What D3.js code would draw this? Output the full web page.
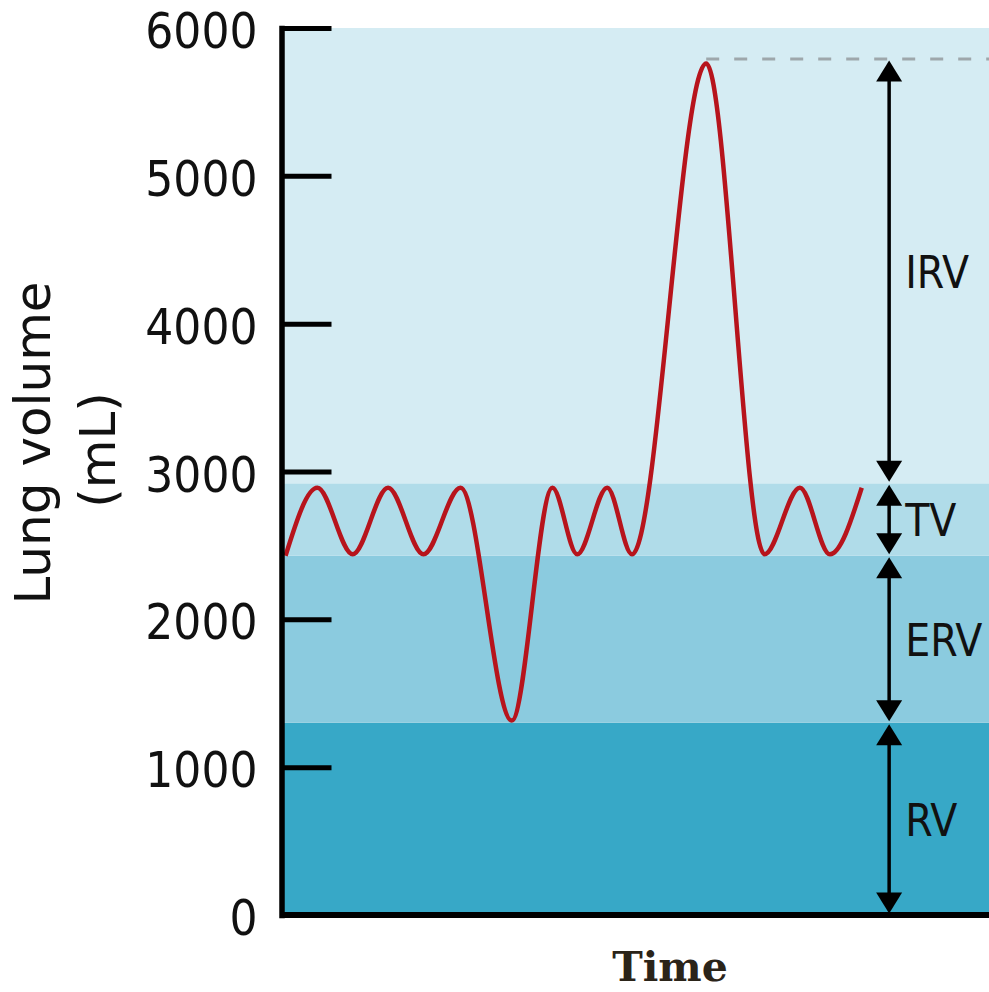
<!DOCTYPE html>
<html>
<head>
<meta charset="utf-8">
<script src="https://cdn.jsdelivr.net/npm/d3@7"></script>
<style>
  html, body { margin: 0; padding: 0; background: #fff; }
  svg { display: block; }
</style>
</head>
<body>
<svg id="chart" width="989" height="992"></svg>
<script>
// Spirogram: lung volume over time with the four lung volumes marked.
const yTicks = [0, 1000, 2000, 3000, 4000, 5000, 6000];

// Band limits (mL)
const bandNames  = ["RV", "ERV", "TV", "IRV"];
const bandLower  = [0, 1300, 2430, 2920];
const bandUpper  = [1300, 2430, 2920, 5790];
const bandColors = ["#37a8c7", "#8bcbdf", "#b0dce9", "#d5ecf3"];

// Spirometer trace: time (s) and volume (mL) at turning points
const traceTime   = [0.2, 2.0, 4.0, 6.0, 8.0, 10.1, 13.0, 15.3, 16.7, 18.4, 19.8, 24.0, 27.3, 29.3, 31.0, 32.8];
const traceVolume = [2430, 2890, 2440, 2890, 2440, 2890, 1315, 2890, 2440, 2890, 2440, 5760, 2440, 2890, 2440, 2890];

const svg = d3.select("#chart");
const W = 989, H = 992;
const plotLeft = 282, plotTop = 28, plotBottom = 915;

const x = d3.scaleLinear().domain([0, 40]).range([plotLeft, W]);
const y = d3.scaleLinear().domain([0, 6000]).range([plotBottom, plotTop]);

// Background bands
const bands = bandNames.map((n, i) => ({ name: n, lo: bandLower[i], hi: bandUpper[i], color: bandColors[i] }));
svg.append("g").selectAll("rect")
  .data(bands)
  .join("rect")
  .attr("x", x(0))
  .attr("width", W - x(0))
  .attr("y", d => y(d.name === "IRV" ? 6000 : d.hi))
  .attr("height", d => y(d.lo) - y(d.name === "IRV" ? 6000 : d.hi))
  .attr("fill", d => d.color);

// Dashed reference at total lung capacity
const peakIdx = traceVolume.indexOf(d3.max(traceVolume));
svg.append("line")
  .attr("x1", x(traceTime[peakIdx]))
  .attr("x2", W)
  .attr("y1", y(bandUpper[3]))
  .attr("y2", y(bandUpper[3]))
  .attr("stroke", "#9ea7ab")
  .attr("stroke-width", 3)
  .attr("stroke-dasharray", "13,15");

// Volume trace
const line = d3.line()
  .x((d, i) => x(traceTime[i]))
  .y(d => y(d))
  .curve(d3.curveMonotoneX);
svg.append("path")
  .datum(traceVolume)
  .attr("d", line)
  .attr("fill", "none")
  .attr("stroke", "#b7141c")
  .attr("stroke-width", 4.5)
  .attr("stroke-linejoin", "round");

// Double-headed arrows for each volume
const ax = x(34.35);
const headH = 21, headW = 26, gap = 1.5;
const arrows = svg.append("g");
bands.forEach(d => {
  const yTop = y(d.hi) + gap, yBot = y(d.lo) - gap;
  arrows.append("line")
    .attr("x1", ax).attr("x2", ax)
    .attr("y1", yTop + headH - 2).attr("y2", yBot - headH + 2)
    .attr("stroke", "#000").attr("stroke-width", 3.5);
  arrows.append("path")
    .attr("d", `M${ax},${yTop}L${ax - headW / 2},${yTop + headH}L${ax + headW / 2},${yTop + headH}Z`)
    .attr("fill", "#000");
  arrows.append("path")
    .attr("d", `M${ax},${yBot}L${ax - headW / 2},${yBot - headH}L${ax + headW / 2},${yBot - headH}Z`)
    .attr("fill", "#000");
  arrows.append("text")
    .attr("x", ax + 16)
    .attr("y", y((d.lo + d.hi) / 2))
    .attr("dy", "0.38em")
    .attr("font-family", "'DejaVu Sans Condensed', 'DejaVu Sans', sans-serif")
    .attr("font-stretch", "condensed")
    .attr("font-size", 44)
    .attr("fill", "#111")
    .text(d.name);
});

// Y axis
const yAxis = d3.axisLeft(y)
  .tickValues(yTicks)
  .tickFormat(d3.format("d"))
  .tickSizeInner(-50)
  .tickSizeOuter(0)
  .tickPadding(24);
const gy = svg.append("g")
  .attr("transform", `translate(${plotLeft - 0.5},0)`)
  .call(yAxis);
gy.select(".domain")
  .attr("stroke", "#000")
  .attr("stroke-width", 5.5)
  .attr("stroke-linecap", "square");
gy.selectAll(".tick line")
  .attr("stroke", "#000")
  .attr("stroke-width", 5);
gy.selectAll(".tick text")
  .attr("dy", "0.4em")
  .attr("font-family", "'DejaVu Sans Condensed', 'DejaVu Sans', sans-serif")
  .attr("font-stretch", "condensed")
  .attr("font-size", 49)
  .attr("fill", "#111");

// X axis baseline
svg.append("line")
  .attr("x1", plotLeft - 2)
  .attr("x2", W)
  .attr("y1", y(0))
  .attr("y2", y(0))
  .attr("stroke", "#000")
  .attr("stroke-width", 6);

// Axis titles
const yTitle = svg.append("text")
  .attr("transform", "translate(50,443) rotate(-90)")
  .attr("text-anchor", "middle")
  .attr("font-family", "'DejaVu Sans', sans-serif")
  .attr("font-size", 50)
  .attr("fill", "#111");
yTitle.append("tspan").attr("x", 0).attr("y", 0).text("Lung volume");
yTitle.append("tspan").attr("x", -7).attr("y", 0).attr("dy", 65).text("(mL)");

svg.append("text")
  .attr("x", 670)
  .attr("y", 981)
  .attr("text-anchor", "middle")
  .attr("font-family", "'DejaVu Serif', serif")
  .attr("font-weight", "bold")
  .attr("font-size", 41)
  .attr("fill", "#2b2419")
  .text("Time");
</script>
</body>
</html>
